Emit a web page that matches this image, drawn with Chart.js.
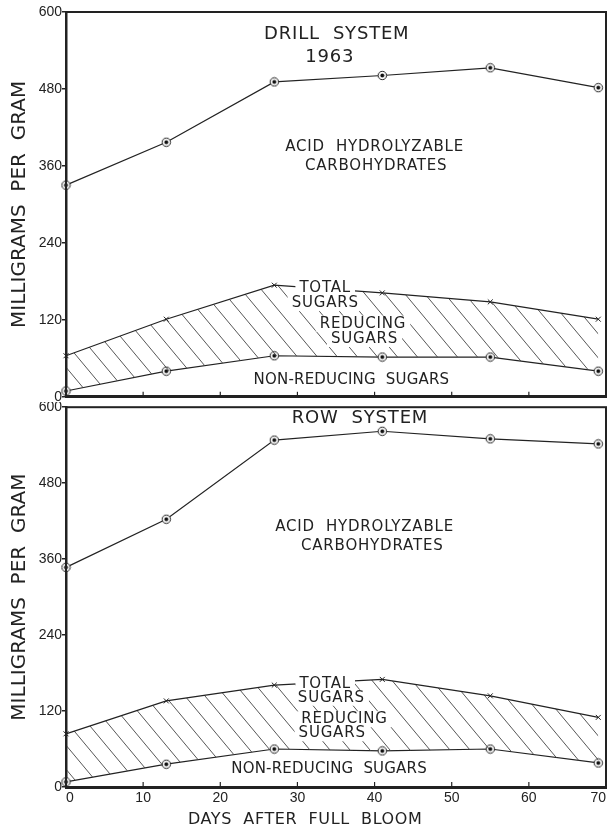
<!DOCTYPE html>
<html>
<head>
<meta charset="utf-8">
<script src="https://cdn.jsdelivr.net/npm/chart.js@4.4.1/dist/chart.umd.min.js"></script>
<style>
  html, body { margin: 0; padding: 0; background: #fff; }
  #wrap { position: relative; width: 613px; height: 829px; }
  #drill { position: absolute; left: 0; top: 0; }
  #row { position: absolute; left: 0; top: 402px; }
</style>
</head>
<body>
<div id="wrap">
  <canvas id="drill" width="613" height="402"></canvas>
  <canvas id="row" width="613" height="427"></canvas>
</div>
<script>
// days after full bloom
const days = [0, 13, 27, 41, 55, 69];

// drill system 1963, mg per gram
const drillAcid = [330, 397, 491, 501, 513, 482];
const drillTotal = [64, 121, 174, 162, 148, 121];
const drillNonReducing = [9, 40, 64, 62, 62, 40];

// row system
const rowAcid = [347, 423, 548, 562, 550, 542];
const rowTotal = [84, 136, 161, 170, 144, 110];
const rowNonReducing = [8, 36, 60, 57, 60, 38];

const yMax = 600, yStep = 120;
const xMax = 70, xStep = 10;

const ink = '#222';
const textFont = '"DejaVu Sans", sans-serif';

// hatch for the reducing sugars band
function makeHatch() {
  const c = document.createElement('canvas');
  c.width = 20; c.height = 24;
  const g = c.getContext('2d');
  g.strokeStyle = '#444';
  g.lineWidth = 0.9;
  g.beginPath();
  g.moveTo(0, 0); g.lineTo(20, 24);
  g.moveTo(-2, 21.6); g.lineTo(2, 26.4);
  g.moveTo(18, -2.4); g.lineTo(22, 2.4);
  g.stroke();
  return c.getContext('2d').createPattern(c, 'repeat');
}

function makeBullseye() {
  const c = document.createElement('canvas');
  c.width = 11; c.height = 11;
  const g = c.getContext('2d');
  g.fillStyle = '#fff';
  g.strokeStyle = ink;
  g.lineWidth = 1;
  g.beginPath(); g.arc(5.5, 5.5, 4.2, 0, Math.PI * 2); g.fill(); g.stroke();
  g.fillStyle = '#111';
  g.beginPath(); g.arc(5.5, 5.5, 2, 0, Math.PI * 2); g.fill();
  return c;
}

const hatch = makeHatch();
const bullseye = makeBullseye();

function pts(vals) {
  return days.map((d, i) => ({ x: d, y: vals[i] }));
}

function makeDatasets(acid, total, nonRed) {
  return [
    { label: 'Acid hydrolyzable carbohydrates', data: pts(acid), borderColor: ink, borderWidth: 1.2,
      pointStyle: bullseye, fill: false, clip: false },
    { label: 'Total sugars', data: pts(total), borderColor: ink, borderWidth: 1.2,
      pointStyle: 'crossRot', pointRadius: 3.5, pointBorderWidth: 1, pointBorderColor: ink,
      backgroundColor: hatch, fill: '+1', clip: false },
    { label: 'Non-reducing sugars', data: pts(nonRed), borderColor: ink, borderWidth: 1.2,
      pointStyle: bullseye, fill: false, clip: false }
  ];
}

// frame, inward x ticks and text labels
const panelPlugin = {
  id: 'panel',
  afterDatasetsDraw(chart, args, opts) {
    const { ctx, chartArea: a } = chart;
    const x = chart.scales.x, y = chart.scales.y;
    ctx.save();
    ctx.textAlign = 'center';
    ctx.textBaseline = 'middle';
    const items = opts.labels.map(l => {
      ctx.font = (l.size || 15) + 'px ' + textFont;
      ctx.letterSpacing = (l.spacing == null ? 0.8 : l.spacing) + 'px';
      return { l, px: x.getPixelForValue(l.x), py: y.getPixelForValue(l.y), w: ctx.measureText(l.text).width };
    });
    ctx.fillStyle = '#fff';
    items.forEach(it => {
      if (it.l.clear) ctx.fillRect(it.px - it.w / 2 - 4, it.py - 8, it.w + 8, 16);
    });
    ctx.fillStyle = ink;
    items.forEach(it => {
      ctx.font = (it.l.size || 15) + 'px ' + textFont;
      ctx.letterSpacing = (it.l.spacing == null ? 0.8 : it.l.spacing) + 'px';
      ctx.fillText(it.l.text, it.px, it.py);
    });
    ctx.letterSpacing = '0px';

    ctx.strokeStyle = ink;
    ctx.lineWidth = 2;
    ctx.strokeRect(a.left, a.top, a.width, a.height);

    ctx.lineWidth = 1.2;
    x.ticks.forEach(t => {
      if (t.value > 0 && t.value < xMax) {
        const px = x.getPixelForValue(t.value);
        ctx.beginPath();
        ctx.moveTo(px, a.bottom);
        ctx.lineTo(px, a.bottom - 5);
        ctx.stroke();
      }
    });

    if (opts.xTitle) {
      ctx.font = '16px ' + textFont;
      ctx.letterSpacing = '0.6px';
      ctx.fillText(opts.xTitle.text, x.getPixelForValue(opts.xTitle.x), a.bottom + opts.xTitle.dy);
    }
    ctx.restore();
  }
};

function makeOptions(padTop, xHeight, showXLabels, labels, xTitle) {
  return {
    responsive: false,
    animation: false,
    layout: { padding: { top: padTop, right: 7, left: 0, bottom: 0 } },
    plugins: {
      legend: { display: false },
      tooltip: { enabled: false },
      panel: { labels: labels, xTitle: xTitle }
    },
    scales: {
      x: {
        type: 'linear', min: 0, max: xMax,
        grid: { display: false, drawTicks: false },
        border: { display: true, color: ink, width: 3 },
        ticks: { display: showXLabels, stepSize: xStep, padding: 3, align: 'inner', color: ink,
                 font: { family: '"Liberation Sans", sans-serif', size: 14 } },
        afterFit: s => { s.height = xHeight; s.paddingLeft = 0; s.paddingRight = 0; }
      },
      y: {
        type: 'linear', min: 0, max: yMax,
        grid: { drawOnChartArea: false, drawTicks: true, tickLength: 4, color: ink, lineWidth: 1.5 },
        border: { display: true, color: ink, width: 2.5 },
        ticks: { stepSize: yStep, padding: 0, color: ink,
                 font: { family: '"Liberation Sans", sans-serif', size: 14 } },
        title: { display: true, text: 'MILLIGRAMS  PER  GRAM', color: ink,
                 font: { family: textFont, size: 20, lineHeight: 1 }, padding: { top: 10, bottom: 0 } },
        afterFit: s => { s.width = 66; s.paddingTop = 0; s.paddingBottom = 0; }
      }
    }
  };
}

const drillLabels = [
  { text: 'DRILL  SYSTEM', x: 35.1, y: 565, size: 18 },
  { text: '1963', x: 34.2, y: 530, size: 18 },
  { text: 'ACID  HYDROLYZABLE', x: 40.0, y: 389 },
  { text: 'CARBOHYDRATES', x: 40.2, y: 359 },
  { text: 'TOTAL', x: 33.6, y: 170, clear: true },
  { text: 'SUGARS', x: 33.6, y: 146, clear: true },
  { text: 'REDUCING', x: 38.5, y: 114, clear: true },
  { text: 'SUGARS', x: 38.7, y: 90, clear: true },
  { text: 'NON-REDUCING  SUGARS', x: 37.0, y: 26, spacing: 0.2 }
];

const rowLabels = [
  { text: 'ROW  SYSTEM', x: 38.1, y: 582, size: 18 },
  { text: 'ACID  HYDROLYZABLE', x: 38.7, y: 411 },
  { text: 'CARBOHYDRATES', x: 39.7, y: 380 },
  { text: 'TOTAL', x: 33.6, y: 163, clear: true },
  { text: 'SUGARS', x: 34.4, y: 141, clear: true },
  { text: 'REDUCING', x: 36.1, y: 107, clear: true },
  { text: 'SUGARS', x: 34.5, y: 85, clear: true },
  { text: 'NON-REDUCING  SUGARS', x: 34.1, y: 28, spacing: 0.2 }
];

new Chart(document.getElementById('drill'), {
  type: 'line',
  data: { datasets: makeDatasets(drillAcid, drillTotal, drillNonReducing) },
  options: makeOptions(12, 4, false, drillLabels, null),
  plugins: [panelPlugin]
});

new Chart(document.getElementById('row'), {
  type: 'line',
  data: { datasets: makeDatasets(rowAcid, rowTotal, rowNonReducing) },
  options: makeOptions(5, 42, true, rowLabels, { text: 'DAYS  AFTER  FULL  BLOOM', x: 31, dy: 33 }),
  plugins: [panelPlugin]
});
</script>
</body>
</html>
